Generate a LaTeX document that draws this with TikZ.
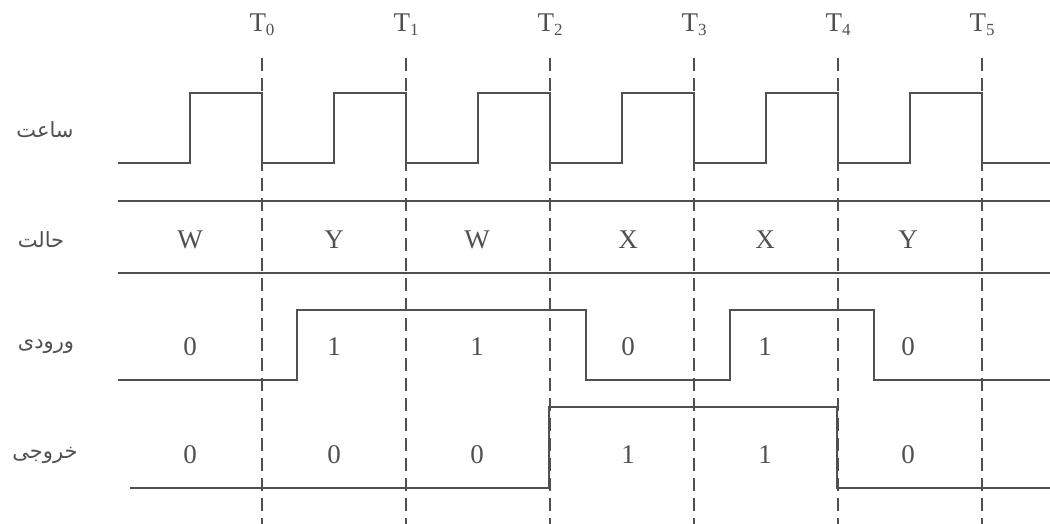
\documentclass[tikz,border=0pt]{standalone}
\usepackage{fontspec}
\setmainfont{Liberation Serif}
\newfontfamily\arabicfont[Script=Arabic]{DejaVu Sans}
\TeXXeTstate=1
\usepackage{tikz}
\usetikzlibrary{positioning, calc}
\definecolor{myGray}{RGB}{80,80,80}

\tikzset{
	wave/.style={line width=1.3pt, myGray, line join=miter},
	guide/.style={line width=1.3pt, myGray, dash pattern=on 13pt off 7pt},
	value/.style={myGray, font=\fontsize{27}{30}\selectfont, inner sep=0pt},
	rowname/.style={myGray, font=\arabicfont\fontsize{21}{24}\selectfont, inner sep=0pt}
}

\begin{document}
\begin{tikzpicture}[x=1pt, y=-1pt]
				\useasboundingbox (0,0) rectangle (1050,524);
				% Clock edges
				\foreach \i in {0,...,5} {
					\coordinate (t\i) at ({262+144*\i},58);
					\draw[guide] (t\i) -- ++(0,466);
					\node[value] (tlab\i) at ({262+144*\i},25) {T\raisebox{-4pt}{\fontsize{17}{17}\selectfont\i}};
				}
				% Clock
				\draw[wave] (118,163) foreach \k in {0,...,5} {
					-- ({190+144*\k},163) -- ({190+144*\k},93) -- ({262+144*\k},93) -- ({262+144*\k},163)
				} -- (1050,163);
				% State
				\draw[wave] (118,201) -- (1050,201);
				\draw[wave] (118,273) -- (1050,273);
				% Input
				\draw[wave] (118,380) -- (297,380) -- (297,310) -- (586,310) -- (586,380) -- (730,380) -- (730,310) -- (874,310) -- (874,380) -- (1050,380);
				% Output
				\draw[wave] (130,488) -- (549,488) -- (549,407) -- (837,407) -- (837,488) -- (1050,488);
				% Values in each period
				\foreach \x/\s/\a/\b in {190/W/0/0, 334/Y/1/0, 477/W/1/0, 628/X/0/1, 765/X/1/1, 908/Y/0/0} {
					\node[value] at (\x,240) {\s};
					\node[value] at (\x,347) {\a};
					\node[value] at (\x,455) {\b};
				}
				% Row names
				\node[rowname] (clk) at (45,130) {\beginR ساعت\endR};
				\node[rowname] (state) at (41,240) {\beginR حالت\endR};
				\node[rowname] (in) at (46,347) {\beginR ورودی\endR};
				\node[rowname] (out) at (45,455) {\beginR خروجی\endR};
			\end{tikzpicture}
\end{document}
